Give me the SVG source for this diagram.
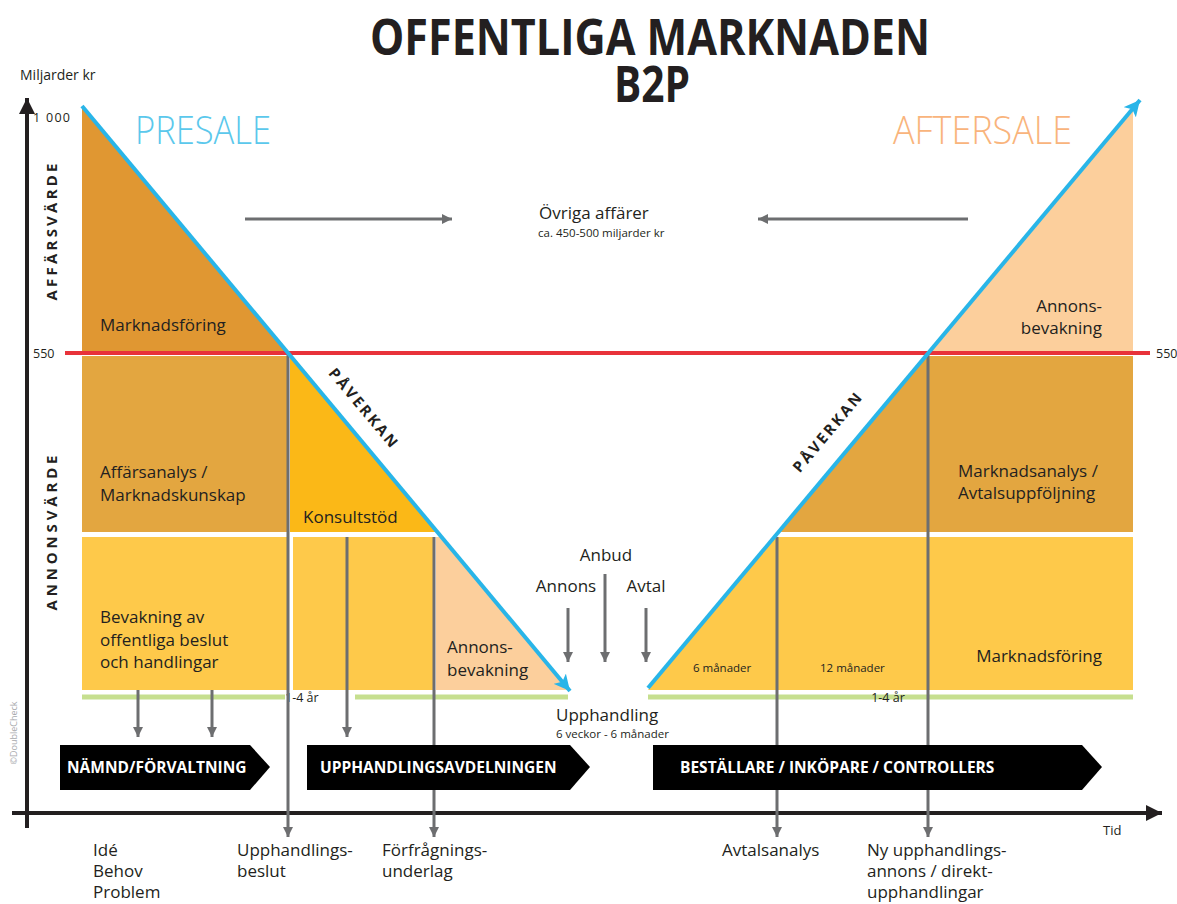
<svg xmlns="http://www.w3.org/2000/svg" width="1177" height="904" viewBox="0 0 1177 904">
<style>
.t{font-family:"Open Sans","Liberation Sans",sans-serif;fill:#231f20}
.m{font-size:17px}
.s{font-size:11.5px}
.bw{font-family:"Open Sans","Liberation Sans",sans-serif;font-weight:700;font-size:15.5px;fill:#fff}
.g{stroke:#6d6e70;stroke-width:3;fill:none}
.blue{stroke:#29b5e8;stroke-width:4;fill:none}
.green{stroke:#c6df8f;stroke-width:5}
</style>
<defs>
<marker id="ag" markerUnits="userSpaceOnUse" markerWidth="12" markerHeight="10" refX="10" refY="5" orient="auto"><path d="M0,0 L10,5 L0,10 Z" fill="#6d6e70"/></marker>
<marker id="ab" markerUnits="userSpaceOnUse" markerWidth="18" markerHeight="16" refX="16" refY="8" orient="auto"><path d="M0,0 L16,8 L0,16 L4,8 Z" fill="#29b5e8"/></marker>
<marker id="ak" markerUnits="userSpaceOnUse" markerWidth="18" markerHeight="16" refX="16" refY="8" orient="auto"><path d="M0,0 L16,8 L0,16 Z" fill="#231f20"/></marker>
</defs>
<rect width="1177" height="904" fill="#fff"/>

<g id="title">
<text class="t" x="650" y="55" text-anchor="middle" font-size="50" font-weight="700" textLength="560" lengthAdjust="spacingAndGlyphs">OFFENTLIGA MARKNADEN</text>
<text class="t" x="652" y="102" text-anchor="middle" font-size="50" font-weight="700" textLength="76" lengthAdjust="spacingAndGlyphs">B2P</text>
</g>

<g id="regions">
<polygon points="82,106 82,351 288,351" fill="#e09732"/>
<rect x="82" y="356" width="206" height="176" fill="#e3a640"/>
<polygon points="290,353 438,532 290,532" fill="#fbb817"/>
<rect x="82" y="537" width="205" height="153" fill="#fec94a"/>
<rect x="293" y="537" width="141" height="153" fill="#fec94a"/>
<polygon points="436,537 442,537 568,690 436,690" fill="#fccf9c"/>
<polygon points="928,351 1133,108 1133,351" fill="#fccf9c"/>
<polygon points="926,356 1133,356 1133,532 779,532" fill="#e3a640"/>
<polygon points="774,537 1133,537 1133,690 648,690" fill="#fec94a"/>
</g>

<g id="axes">
<line x1="27" y1="828" x2="27" y2="98" stroke="#231f20" stroke-width="4" marker-end="url(#ak)"/>
<line x1="12" y1="813" x2="1162" y2="813" stroke="#231f20" stroke-width="4" marker-end="url(#ak)"/>
<text class="t" x="20" y="80" font-size="14">Miljarder kr</text>
<text class="t" x="33" y="122" font-size="12.5" textLength="37" lengthAdjust="spacing">1 000</text>
<text class="t" x="33" y="358" font-size="12.5">550</text>
<text class="t" x="1156" y="358" font-size="12.5">550</text>
<text class="t" x="1103" y="835" font-size="13">Tid</text>
<text class="t" transform="translate(57,232) rotate(-90)" text-anchor="middle" font-size="15" font-weight="700" textLength="137" lengthAdjust="spacing">AFFÄRSVÄRDE</text>
<text class="t" transform="translate(57,533) rotate(-90)" text-anchor="middle" font-size="15" font-weight="700" textLength="155" lengthAdjust="spacing">ANNONSVÄRDE</text>
<text transform="translate(17,733) rotate(-90)" text-anchor="middle" font-family="Open Sans, Liberation Sans, sans-serif" font-size="9" fill="#a7a9ac">©DoubleCheck</text>
</g>

<g id="phase-labels">
<text x="135" y="144" font-family="Open Sans, Liberation Sans, sans-serif" font-weight="300" font-size="38" fill="#5bc8ec" textLength="136" lengthAdjust="spacingAndGlyphs">PRESALE</text>
<text x="893" y="144" font-family="Open Sans, Liberation Sans, sans-serif" font-weight="300" font-size="38" fill="#f9b47c" textLength="179" lengthAdjust="spacingAndGlyphs">AFTERSALE</text>
</g>

<g id="other-business">
<text class="t m" x="539" y="219">Övriga affärer</text>
<text class="t s" x="538" y="237">ca. 450-500 miljarder kr</text>
</g>

<g id="lines">
<line x1="65" y1="353" x2="1150" y2="353" stroke="#e8323a" stroke-width="4"/>
<line class="green" x1="82" y1="697" x2="285" y2="697"/>
<line class="green" x1="355" y1="697" x2="568" y2="697"/>
<line class="green" x1="648" y1="697" x2="1133" y2="697"/>
<text class="t" x="285" y="702" font-size="12.5">1-4 år</text>
<text class="t" x="888" y="702" font-size="12.5" text-anchor="middle">1-4 år</text>
</g>

<g id="connectors">
<line class="g" x1="245" y1="219" x2="452" y2="219" stroke-width="4" marker-end="url(#ag)"/>
<line class="g" x1="968" y1="219" x2="758" y2="219" stroke-width="4" marker-end="url(#ag)"/>
<line class="g" x1="288" y1="353" x2="288" y2="837" marker-end="url(#ag)"/>
<line class="g" x1="347" y1="537" x2="347" y2="737" marker-end="url(#ag)"/>
<line class="g" x1="434" y1="537" x2="434" y2="837" marker-end="url(#ag)"/>
<line class="g" x1="138" y1="690" x2="138" y2="737" marker-end="url(#ag)"/>
<line class="g" x1="212" y1="690" x2="212" y2="737" marker-end="url(#ag)"/>
<line class="g" x1="777" y1="537" x2="777" y2="837" marker-end="url(#ag)"/>
<line class="g" x1="928" y1="353" x2="928" y2="837" marker-end="url(#ag)"/>
<line class="g" x1="568" y1="608" x2="568" y2="662" marker-end="url(#ag)"/>
<line class="g" x1="605" y1="574" x2="605" y2="662" marker-end="url(#ag)"/>
<line class="g" x1="646" y1="608" x2="646" y2="662" marker-end="url(#ag)"/>
<line class="blue" x1="82" y1="106" x2="570" y2="691" marker-end="url(#ab)"/>
<line class="blue" x1="648" y1="688" x2="1140" y2="100" marker-end="url(#ab)"/>
</g>

<g id="paverkan">
<text class="t" transform="translate(360,412) rotate(50)" text-anchor="middle" font-size="15" font-weight="700" letter-spacing="2.5">PÅVERKAN</text>
<text class="t" transform="translate(832,435) rotate(-50)" text-anchor="middle" font-size="15" font-weight="700" letter-spacing="2.5">PÅVERKAN</text>
</g>

<g id="region-labels">
<text class="t m" x="100" y="331">Marknadsföring</text>
<text class="t m" x="100" y="478">Affärsanalys /</text>
<text class="t m" x="100" y="501">Marknadskunskap</text>
<text class="t m" x="100" y="623">Bevakning av</text>
<text class="t m" x="100" y="646">offentliga beslut</text>
<text class="t m" x="100" y="668">och handlingar</text>
<text class="t m" x="303" y="523">Konsultstöd</text>
<text class="t m" x="447" y="653">Annons-</text>
<text class="t m" x="447" y="676">bevakning</text>
<text class="t m" x="1102" y="312" text-anchor="end">Annons-</text>
<text class="t m" x="1102" y="334" text-anchor="end">bevakning</text>
<text class="t m" x="958" y="477">Marknadsanalys /</text>
<text class="t m" x="958" y="499">Avtalsuppföljning</text>
<text class="t m" x="1102" y="662" text-anchor="end">Marknadsföring</text>
<text class="t s" x="693" y="672">6 månader</text>
<text class="t s" x="820" y="672">12 månader</text>
</g>

<g id="procurement">
<text class="t m" x="606" y="561" text-anchor="middle">Anbud</text>
<text class="t m" x="566" y="592" text-anchor="middle">Annons</text>
<text class="t m" x="646" y="592" text-anchor="middle">Avtal</text>
<text class="t m" x="556" y="721">Upphandling</text>
<text class="t s" x="556" y="738">6 veckor - 6 månader</text>
</g>

<g id="banner-namnd">
<polygon points="60,745 250,745 270,767 250,790 60,790" fill="#000"/>
<text class="bw" x="67" y="773">NÄMND/FÖRVALTNING</text>
</g>
<g id="banner-upphandling">
<polygon points="307,745 570,745 590,767 570,790 307,790" fill="#000"/>
<text class="bw" x="320" y="773">UPPHANDLINGSAVDELNINGEN</text>
</g>
<g id="banner-bestallare">
<polygon points="653,745 1082,745 1102,767 1082,790 653,790" fill="#000"/>
<text class="bw" x="680" y="773">BESTÄLLARE / INKÖPARE / CONTROLLERS</text>
</g>

<g id="bottom-labels">
<text class="t m" x="93" y="856">Idé</text>
<text class="t m" x="93" y="877">Behov</text>
<text class="t m" x="93" y="898">Problem</text>
<text class="t m" x="237" y="856">Upphandlings-</text>
<text class="t m" x="237" y="877">beslut</text>
<text class="t m" x="382" y="856">Förfrågnings-</text>
<text class="t m" x="382" y="877">underlag</text>
<text class="t m" x="722" y="856">Avtalsanalys</text>
<text class="t m" x="867" y="856">Ny upphandlings-</text>
<text class="t m" x="867" y="877">annons / direkt-</text>
<text class="t m" x="867" y="898">upphandlingar</text>
</g>
</svg>
